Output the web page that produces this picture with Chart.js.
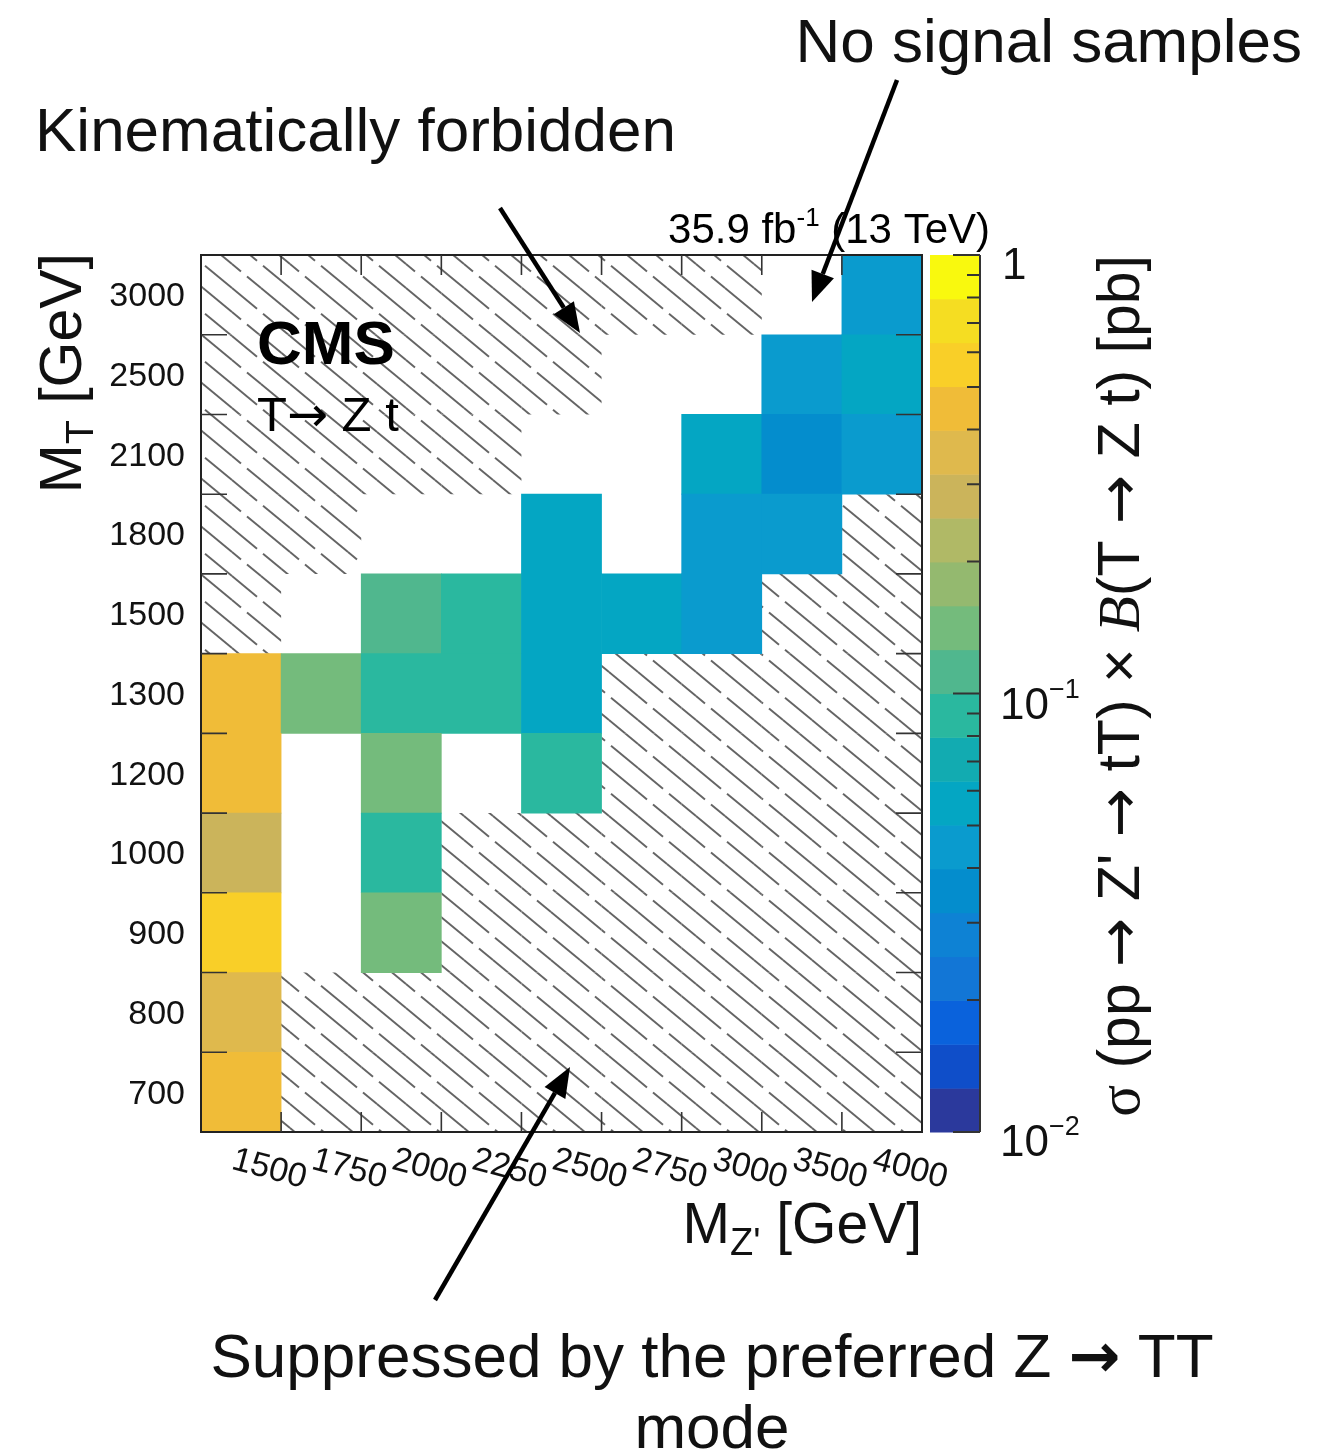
<!DOCTYPE html>
<html>
<head>
<meta charset="utf-8">
<title>T → Z t cross section</title>
<script src="https://cdn.jsdelivr.net/npm/chart.js@4.4.0/dist/chart.umd.min.js"></script>
<style>
  html, body { margin: 0; padding: 0; background: #fff; }
  canvas { display: block; }
</style>
</head>
<body>
<canvas id="chart" width="1322" height="1455"></canvas>
<script>
// Z' mass bins along x, T mass bins along y (bottom to top)
const massZ = ['1500', '1750', '2000', '2250', '2500', '2750', '3000', '3500', '4000'];
const massT = ['700', '800', '900', '1000', '1200', '1300', '1500', '1800', '2100', '2500', '3000'];

// sigma(pp -> Z' -> tT) x B(T -> Zt) in pb, one array per M_T bin, columns follow massZ
const sigma700  = [0.45, null, null, null, null, null, null, null, null];
const sigma800  = [0.35, null, null, null, null, null, null, null, null];
const sigma900  = [0.60, null, 0.14, null, null, null, null, null, null];
const sigma1000 = [0.28, null, 0.089, null, null, null, null, null, null];
const sigma1200 = [0.45, null, 0.14, null, 0.089, null, null, null, null];
const sigma1300 = [0.45, 0.14, 0.089, 0.089, 0.056, null, null, null, null];
const sigma1500 = [null, null, 0.11, 0.089, 0.056, 0.056, 0.045, null, null];
const sigma1800 = [null, null, null, null, 0.056, null, 0.045, 0.045, null];
const sigma2100 = [null, null, null, null, null, null, 0.056, 0.035, 0.045];
const sigma2500 = [null, null, null, null, null, null, null, 0.045, 0.056];
const sigma3000 = [null, null, null, null, null, null, null, null, 0.045];
const sigmaRows = [sigma700, sigma800, sigma900, sigma1000, sigma1200, sigma1300,
                   sigma1500, sigma1800, sigma2100, sigma2500, sigma3000];

// hatched bins per M_T row: F = kinematically forbidden, S = suppressed (Z' -> TT preferred)
const hatchRows = [
  '.SSSSSSSS', // 700
  '.SSSSSSSS', // 800
  '...SSSSSS', // 900
  '...SSSSSS', // 1000
  '.....SSSS', // 1200
  '.....SSSS', // 1300
  'F......SS', // 1500
  'FF......S', // 1800
  'FFFF.....', // 2100
  'FFFFF....', // 2500
  'FFFFFFF..'  // 3000
];

// colour axis: log10 range and the 20 palette steps, bottom to top
const zLogMin = -2;
const zLogMax = 0;
const palette = [
  '#2b399c', '#0f4ec9', '#0a62dc', '#1276d6', '#0e82d4',
  '#048dcd', '#0a9bce', '#04a6c3', '#12abb1', '#2ab89f',
  '#50b78e', '#74bb7c', '#94b96f', '#b0b966', '#cbb45b',
  '#dfb94d', '#f0bc38', '#f9cf28', '#f5dd22', '#f9f90e'
];
const zTicks = [1, 0.9, 0.8, 0.7, 0.6, 0.5, 0.4, 0.3, 0.2,
                0.1, 0.09, 0.08, 0.07, 0.06, 0.05, 0.04, 0.03, 0.02, 0.01];

const SANS = "'Liberation Sans', Arial, Helvetica, sans-serif";
const SERIF = "'Liberation Serif', 'Times New Roman', serif";
const ARROW = "'DejaVu Sans', sans-serif";

function bandColor(v) {
  let i = Math.floor((Math.log10(v) - zLogMin) / (zLogMax - zLogMin) * palette.length);
  i = Math.max(0, Math.min(palette.length - 1, i));
  return palette[i];
}

// diagonal hatch tile, two broken strokes per repeat
function makeHatch() {
  const w = 58, h = 48;
  const c = document.createElement('canvas');
  c.width = w; c.height = h;
  const g = c.getContext('2d');
  g.strokeStyle = '#646464';
  g.lineWidth = 1.9;
  const segs = [
    [0, 0, 25, 20.7], [31, 25.7, 58, 48],
    [29, 0, 58, 24], [0, 24, 9, 31.4], [15, 36.4, 29, 48]
  ];
  for (let ox = -w; ox <= w; ox += w) {
    for (let oy = -h; oy <= h; oy += h) {
      segs.forEach(s => {
        g.beginPath();
        g.moveTo(s[0] + ox, s[1] + oy);
        g.lineTo(s[2] + ox, s[3] + oy);
        g.stroke();
      });
    }
  }
  return g.createPattern(c, 'repeat');
}
const hatch = makeHatch();

const cellSets = sigmaRows.map((row, r) => ({
  label: massT[r],
  data: row.map(v => v === null ? null : [r, r + 1]),
  backgroundColor: row.map(v => v === null ? 'rgba(0,0,0,0)' : bandColor(v)),
  grouped: false,
  barPercentage: 1,
  categoryPercentage: 1,
  borderWidth: 0
}));

const hatchSets = hatchRows.map((row, r) => ({
  label: 'hatch ' + massT[r],
  data: row.split('').map(ch => ch === '.' ? null : [r, r + 1]),
  backgroundColor: hatch,
  grouped: false,
  barPercentage: 1,
  categoryPercentage: 1,
  borderWidth: 0,
  inflateAmount: 0
}));

// split a string so that arrows get a font with a long arrow glyph
function arrowRuns(text, font, size) {
  const runs = [];
  text.split('\u2192').forEach((piece, i) => {
    if (i > 0) runs.push(['\u2192', size + 'px ' + ARROW]);
    if (piece) runs.push([piece, font]);
  });
  return runs;
}

// text made of runs with their own font and vertical shift
function drawRuns(ctx, runs, x, y, align) {
  let w = 0;
  runs.forEach(p => { ctx.font = p[1]; w += ctx.measureText(p[0]).width; });
  let cx = align === 'right' ? x - w : align === 'center' ? x - w / 2 : x;
  ctx.textAlign = 'left';
  runs.forEach(p => {
    ctx.font = p[1];
    ctx.fillText(p[0], cx, y + (p[2] || 0));
    cx += ctx.measureText(p[0]).width;
  });
}

function arrow(ctx, x0, y0, x1, y1) {
  const ang = Math.atan2(y1 - y0, x1 - x0);
  const head = 30, half = 12;
  const bx = x1 - head * Math.cos(ang), by = y1 - head * Math.sin(ang);
  ctx.lineWidth = 4.5;
  ctx.beginPath();
  ctx.moveTo(x0, y0);
  ctx.lineTo(bx, by);
  ctx.stroke();
  ctx.beginPath();
  ctx.moveTo(x1, y1);
  ctx.lineTo(bx + half * Math.sin(ang), by - half * Math.cos(ang));
  ctx.lineTo(bx - half * Math.sin(ang), by + half * Math.cos(ang));
  ctx.closePath();
  ctx.fill();
}

const decorations = {
  id: 'decorations',
  afterDraw(chart) {
    const { ctx, chartArea: a, scales: { x, y, z } } = chart;
    ctx.save();
    ctx.fillStyle = '#111';
    ctx.strokeStyle = '#222';

    // frame and inward ticks at bin edges
    ctx.lineWidth = 2;
    ctx.strokeRect(a.left, a.top, a.right - a.left, a.bottom - a.top);
    ctx.lineWidth = 1.6;
    ctx.strokeStyle = '#333';
    ctx.beginPath();
    for (let i = 1; i < massZ.length; i++) {
      const px = (x.getPixelForValue(i - 1) + x.getPixelForValue(i)) / 2;
      ctx.moveTo(px, a.bottom); ctx.lineTo(px, a.bottom - 20);
      ctx.moveTo(px, a.top); ctx.lineTo(px, a.top + 20);
    }
    for (let i = 1; i < massT.length; i++) {
      const py = y.getPixelForValue(i);
      ctx.moveTo(a.left, py); ctx.lineTo(a.left + 26, py);
      ctx.moveTo(a.right, py); ctx.lineTo(a.right - 26, py);
    }
    ctx.stroke();

    // bin labels
    ctx.font = '34px ' + SANS;
    ctx.textAlign = 'right';
    ctx.textBaseline = 'middle';
    massT.forEach((lab, r) => {
      ctx.fillText(lab, a.left - 16, y.getPixelForValue(r + 0.5) + 2);
    });
    ctx.textAlign = 'left';
    ctx.textBaseline = 'top';
    massZ.forEach((lab, i) => {
      ctx.save();
      ctx.translate(x.getPixelForValue(i) - 4, a.bottom + 11);
      ctx.rotate(15 * Math.PI / 180);
      ctx.fillText(lab, 0, 0);
      ctx.restore();
    });
    ctx.textBaseline = 'alphabetic';

    // colour bar
    const barL = a.right + 8, barR = a.right + 58;
    for (let k = 0; k < palette.length; k++) {
      const lo = Math.pow(10, zLogMin + k * (zLogMax - zLogMin) / palette.length);
      const hi = Math.pow(10, zLogMin + (k + 1) * (zLogMax - zLogMin) / palette.length);
      const y0 = z.getPixelForValue(hi), y1 = z.getPixelForValue(lo);
      ctx.fillStyle = palette[k];
      ctx.fillRect(barL, y0, barR - barL, y1 - y0 + 0.5);
    }
    ctx.strokeStyle = '#333';
    ctx.lineWidth = 2;
    ctx.beginPath();
    ctx.moveTo(barR, z.getPixelForValue(1));
    ctx.lineTo(barR, z.getPixelForValue(0.01));
    zTicks.forEach(t => {
      const py = z.getPixelForValue(t);
      const major = Math.abs(Math.log10(t) - Math.round(Math.log10(t))) < 1e-6;
      ctx.moveTo(barR, py);
      ctx.lineTo(barR - (major ? 27 : 13), py);
    });
    ctx.stroke();

    ctx.fillStyle = '#111';
    drawRuns(ctx, [['1', '44px ' + SANS]], barR + 22, z.getPixelForValue(1) + 24, 'left');
    drawRuns(ctx, [['10', '44px ' + SANS], ['\u22121', '27px ' + SANS, -21]],
      barR + 20, z.getPixelForValue(0.1) + 25, 'left');
    drawRuns(ctx, [['10', '44px ' + SANS], ['\u22122', '27px ' + SANS, -21]],
      barR + 20, z.getPixelForValue(0.01) + 24, 'left');

    // axis titles
    drawRuns(ctx, [['M', '57px ' + SANS], ["Z'", '38px ' + SANS, 12], [' [GeV]', '57px ' + SANS]],
      a.right, a.bottom + 111, 'right');

    ctx.save();
    ctx.translate(81, a.top - 2);
    ctx.rotate(-Math.PI / 2);
    drawRuns(ctx, [['M', '59px ' + SANS], ['T', '39px ' + SANS, 12], [' [GeV]', '59px ' + SANS]],
      0, 0, 'right');
    ctx.restore();

    ctx.save();
    ctx.translate(1139, a.top);
    ctx.rotate(-Math.PI / 2);
    const zFont = '59px ' + SANS;
    drawRuns(ctx, [
      ['\u03c3', '59px ' + SERIF],
      ...arrowRuns(" (pp \u2192 Z' \u2192 tT) \u00d7 ", zFont, 59),
      ['B', 'italic 59px ' + SERIF],
      ...arrowRuns('(T \u2192 Z t) [pb]', zFont, 59)
    ], 0, 0, 'right');
    ctx.restore();

    // CMS labels
    ctx.fillStyle = '#000';
    drawRuns(ctx, [['CMS', 'bold 62px ' + SANS]], 257, 364, 'left');
    drawRuns(ctx, arrowRuns('T\u2192 Z t', '49px ' + SANS, 49), 257, 431, 'left');
    drawRuns(ctx, [['35.9 fb', '42px ' + SANS], ['-1', '26px ' + SANS, -17], [' (13 TeV)', '42px ' + SANS]],
      990, 243, 'right');

    // annotations
    ctx.fillStyle = '#111';
    ctx.strokeStyle = '#000';
    const noteFont = '62px ' + SANS;
    drawRuns(ctx, [['Kinematically forbidden', noteFont]], 35, 151, 'left');
    drawRuns(ctx, [['No signal samples', noteFont]], 1302, 62, 'right');
    drawRuns(ctx, [['Suppressed by the preferred Z ', noteFont], ['\u2192', 'bold 62px ' + ARROW],
      [' TT', noteFont]], 712, 1377, 'center');
    drawRuns(ctx, [['mode', noteFont]], 712, 1448, 'center');
    ctx.fillStyle = '#000';
    arrow(ctx, 500, 208, 580, 333);
    arrow(ctx, 897, 80, 812, 302);
    arrow(ctx, 435, 1300, 570, 1067);

    ctx.restore();
  }
};

new Chart(document.getElementById('chart'), {
  type: 'bar',
  data: { labels: massZ, datasets: [...cellSets, ...hatchSets] },
  options: {
    responsive: false,
    animation: false,
    events: [],
    layout: { padding: { left: 201, top: 255, right: 400, bottom: 323 } },
    plugins: { legend: { display: false }, tooltip: { enabled: false } },
    scales: {
      x: { type: 'category', offset: true, display: false },
      y: { type: 'linear', min: 0, max: massT.length, display: false },
      z: { type: 'logarithmic', axis: 'y', position: 'right', min: 0.01, max: 1, display: false }
    }
  },
  plugins: [decorations]
});
</script>
</body>
</html>
